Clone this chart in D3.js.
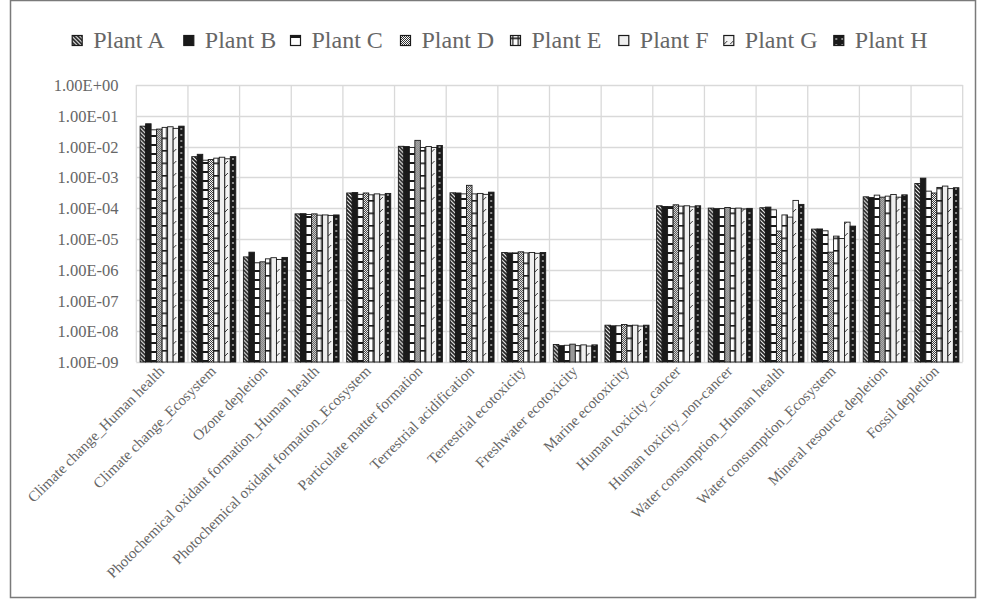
<!DOCTYPE html>
<html><head><meta charset="utf-8">
<script src="https://cdn.jsdelivr.net/npm/d3@7/dist/d3.min.js"></script>
<style>html,body{margin:0;padding:0;background:#fff;} svg{display:block;}</style>
</head><body>
<svg id="chart" width="984" height="599"></svg>
<script>
const categories = ["Climate change_Human health","Climate change_Ecosystem","Ozone depletion","Photochemical oxidant formation_Human health","Photochemical oxidant formation_Ecosystem","Particulate matter formation","Terrestrial acidification","Terrestrial ecotoxicity","Freshwater ecotoxicity","Marine ecotoxicity","Human toxicity_cancer","Human toxicity_non-cancer","Water consumption_Human health","Water consumption_Ecosystem","Mineral resource depletion","Fossil depletion"];
const seriesNames = ["Plant A","Plant B","Plant C","Plant D","Plant E","Plant F","Plant G","Plant H"];
const plantA = [0.046,0.0047,2.6e-6,6.5e-5,3.1e-4,0.0102,3.15e-4,3.6e-6,3.7e-9,1.57e-8,1.19e-4,1.0e-4,1.03e-4,2.08e-5,2.33e-4,6.3e-4];
const plantB = [0.055,0.0056,3.7e-6,6.6e-5,3.2e-4,0.0100,3.1e-4,3.5e-6,3.4e-9,1.5e-8,1.13e-4,9.6e-5,1.08e-4,2.1e-5,2.2e-4,9.4e-4];
const plantC = [0.035,0.0036,1.67e-6,6.2e-5,2.8e-4,0.0093,2.9e-4,3.5e-6,3.5e-9,1.5e-8,1.13e-4,9.6e-5,8.8e-5,1.83e-5,2.64e-4,3.56e-4];
const plantD = [0.037,0.0038,1.8e-6,6.5e-5,3.1e-4,0.0159,5.5e-4,3.8e-6,3.8e-9,1.65e-8,1.28e-4,1.05e-4,1.8e-5,3.7e-6,2.27e-4,3.1e-4];
const plantE = [0.042,0.0042,2.25e-6,5.9e-5,2.7e-4,0.0093,2.9e-4,3.5e-6,3.4e-9,1.55e-8,1.16e-4,9.8e-5,6.0e-5,1.23e-5,2.45e-4,4.7e-4];
const plantF = [0.044,0.0045,2.45e-6,6.0e-5,2.9e-4,0.0100,3.0e-4,3.6e-6,3.6e-9,1.57e-8,1.19e-4,1.0e-4,5.1e-5,1.03e-5,2.78e-4,5.2e-4];
const plantG = [0.039,0.0040,2.15e-6,5.8e-5,2.7e-4,0.0093,2.8e-4,3.4e-6,3.3e-9,1.47e-8,1.1e-4,9.4e-5,1.78e-4,3.5e-5,2.27e-4,4.3e-4];
const plantH = [0.046,0.0047,2.5e-6,6.0e-5,3.0e-4,0.0108,3.3e-4,3.6e-6,3.6e-9,1.57e-8,1.19e-4,9.8e-5,1.32e-4,2.6e-5,2.7e-4,4.6e-4];
const yTickValues = [1e0,1e-1,1e-2,1e-3,1e-4,1e-5,1e-6,1e-7,1e-8,1e-9];
const yTickLabels = ["1.00E+00","1.00E-01","1.00E-02","1.00E-03","1.00E-04","1.00E-05","1.00E-06","1.00E-07","1.00E-08","1.00E-09"];

const seriesValues = [plantA,plantB,plantC,plantD,plantE,plantF,plantG,plantH];
const patternIds = ["pA","pB","pC","pD","pE","pF","pG","pH"];

const svg = d3.select("#chart");
const font = "'Liberation Serif','Times New Roman',serif";
const textColor = "#666";

// patterns
const defs = svg.append("defs");
function pat(id,w,h,draw){
  const p = defs.append("pattern").attr("id",id).attr("patternUnits","userSpaceOnUse").attr("width",w).attr("height",h);
  draw(p);
}
pat("pA",4,4,p=>{
  p.append("rect").attr("width",4).attr("height",4).attr("fill","#1a1a1a");
  p.append("path").attr("d","M-1,-1 L5,5 M-1,3 L1,5 M3,-1 L5,1").attr("stroke","#fff").attr("stroke-width",1.1);
});
pat("pB",4,4,p=>{ p.append("rect").attr("width",4).attr("height",4).attr("fill","#1a1a1a"); });
pat("pC",6,9,p=>{
  p.append("rect").attr("width",6).attr("height",9).attr("fill","#fff");
  p.append("rect").attr("y",0).attr("width",6).attr("height",2).attr("fill","#1a1a1a");
});
pat("pD",2,2,p=>{
  p.append("rect").attr("width",2).attr("height",2).attr("fill","#fff");
  p.append("rect").attr("width",1).attr("height",1).attr("fill","#333");
  p.append("rect").attr("x",1).attr("y",1).attr("width",1).attr("height",1).attr("fill","#333");
});
pat("pF",4,4,p=>{ p.append("rect").attr("width",4).attr("height",4).attr("fill","#efefef"); });
pat("pG",6,12,p=>{
  p.append("rect").attr("width",6).attr("height",12).attr("fill","#f4f4f4");
  p.append("path").attr("d","M1,8 L4,5").attr("stroke","#333").attr("stroke-width",1);
});
pat("pH",6,6,p=>{
  p.append("rect").attr("width",6).attr("height",6).attr("fill","#1a1a1a");
  p.append("rect").attr("x",2.3).attr("y",2.3).attr("width",1.4).attr("height",1.4).attr("fill","#fff");
});

const plotLeft = 136.3, plotRight = 962.7, plotTop = 85, plotBottom = 362;
const x = d3.scaleBand().domain(categories).range([plotLeft,plotRight]).paddingInner(0).paddingOuter(0);
const y = d3.scaleLog().domain([1e-9,1]).range([plotBottom,plotTop]);
const inner = d3.scaleBand().domain(seriesNames).range([3.8, x.bandwidth()-3.8]).paddingInner(0);

// pattern E needs bar-relative vertical center line; define after knowing bar width
const bw = inner.bandwidth();
pat("pE",bw,12.5,p=>{
  p.append("rect").attr("width",bw).attr("height",12.5).attr("fill","#fff");
  p.append("rect").attr("y",0).attr("width",bw).attr("height",1.6).attr("fill","#1a1a1a");
  p.append("rect").attr("x",bw/2-0.6).attr("width",1.2).attr("height",12.5).attr("fill","#1a1a1a");
});

// outer border
svg.append("rect").attr("x",10.5).attr("y",0.5).attr("width",965).attr("height",597)
  .attr("fill","none").attr("stroke","#7a7a7a").attr("stroke-width",1.5);

// gridlines
const grid = svg.append("g");
grid.selectAll("line.h").data(yTickValues).join("line").attr("class","h")
  .attr("x1",plotLeft).attr("x2",plotRight).attr("y1",d=>Math.round(y(d))+0.5).attr("y2",d=>Math.round(y(d))+0.5)
  .attr("stroke","#d9d9d9").attr("stroke-width",1.3);
const vb = categories.map(c=>x(c)).concat([plotRight]);
grid.selectAll("line.v").data(vb).join("line").attr("class","v")
  .attr("x1",d=>d).attr("x2",d=>d).attr("y1",plotTop).attr("y2",plotBottom)
  .attr("stroke","#d9d9d9").attr("stroke-width",1.3);

// y axis labels via d3 axis
const yAxis = d3.axisLeft(y).tickValues(yTickValues).tickFormat((d,i)=>yTickLabels[i]).tickSize(0).tickPadding(0);
const yg = svg.append("g").attr("transform",`translate(${118.5},0)`).call(yAxis);
yg.select(".domain").remove();
yg.selectAll("text").attr("font-family",font).attr("font-size",16.5).attr("fill",textColor).attr("dy","0.34em");

// bars
const groups = svg.append("g").selectAll("g").data(categories).join("g")
  .attr("transform",c=>`translate(${x(c)},0)`);
groups.selectAll("rect").data((c,ci)=>seriesNames.map((s,si)=>({s,si,v:seriesValues[si][ci]}))).join("rect")
  .attr("x",d=>inner(d.s)).attr("width",bw)
  .attr("y",d=>y(d.v)).attr("height",d=>plotBottom - y(d.v))
  .attr("fill",d=>`url(#${patternIds[d.si]})`)
  .attr("stroke","#1a1a1a").attr("stroke-width",0.9);

// x labels
svg.append("g").selectAll("text").data(categories).join("text")
  .attr("transform",c=>`translate(${x(c)+x.bandwidth()/2+3},${372}) rotate(-45)`)
  .attr("text-anchor","end")
  .attr("font-family",font).attr("font-size",15).attr("fill",textColor)
  .text(c=>c);

// legend
const leg = svg.append("g");
const iconX = [71.7,183.3,290,400,510,618.3,723.3,833.3];
seriesNames.forEach((s,i)=>{
  const g = leg.append("g").attr("transform",`translate(${iconX[i]},0)`);
  g.append("rect").attr("x",0.5).attr("y",35.5).attr("width",10).attr("height",10)
    .attr("fill",`url(#${patternIds[i]})`).attr("stroke","#1a1a1a").attr("stroke-width",1.2);
  g.append("text").attr("x",21.5).attr("y",48).attr("font-family",font).attr("font-size",24)
    .attr("fill",textColor).text(s);
});
</script>
</body></html>
